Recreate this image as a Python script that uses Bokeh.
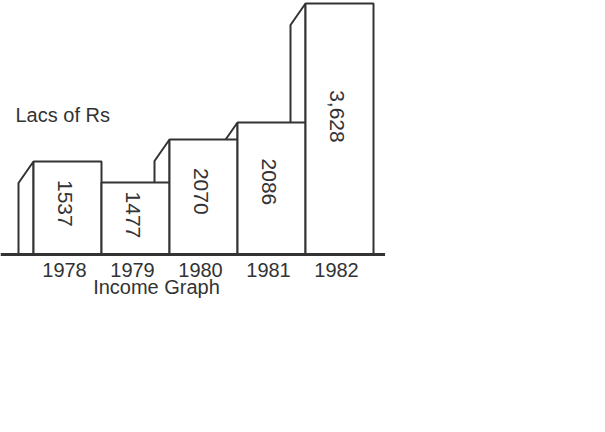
import math
from bokeh.plotting import figure
from bokeh.models import ColumnDataSource, Range1d
from bokeh.core.properties import value
from bokeh.embed import file_html
from bokeh.resources import INLINE

# ---- data ----
years = ["1978", "1979", "1980", "1981", "1982"]
labels = ["1537", "1477", "2070", "2086", "3,628"]
# drawn bar heights (arbitrary picture units; the bars are not proportional to the labels)
heights = [93, 72, 115, 132, 251]
unit_label = "Lacs of Rs"
chart_title = "Income Graph"

# ---- layout / style ----
W, H = 589, 416
PX = 68.0                      # pixels per bar slot
LEFT = 33                      # pixel position of first bar's front face
x0 = -LEFT / PX
y_base = 254                   # baseline in canvas pixels from top
DX = 15 / PX                   # depth of side face (x units)
DY = 21.5                      # depth of side face (y units)
INK = "#333333"
FONT = value("Liberation Sans")

p = figure(width=W, height=H, output_backend="svg", toolbar_location=None,
           x_range=Range1d(x0, x0 + W / PX), y_range=Range1d(-(H - y_base), y_base),
           min_border=0)
p.axis.visible = False
p.grid.visible = False
p.outline_line_color = None
p.background_fill_color = "white"
p.border_fill_color = "white"

n = len(years)
idx = list(range(n))

# side faces (drawn first so front faces hide them)
xs, ys = [], []
for i, h in zip(idx, heights):
    xs.append([i - DX, i - DX, i, i])
    ys.append([0, h - DY, h, 0])
p.patches(xs, ys, fill_color="white", line_color=INK, line_width=2)

# front faces
src = ColumnDataSource(dict(left=[i for i in idx], right=[i + 1 for i in idx],
                            top=heights, bottom=[0] * n,
                            cx=[i + 0.5 for i in idx],
                            ly=[0.55 * h for h in heights],
                            lab=labels, yr=years))
p.quad(left="left", right="right", top="top", bottom="bottom", source=src,
       fill_color="white", line_color=INK, line_width=2)

# baseline
p.segment(x0=[x0], y0=[0], x1=[n + 0.17], y1=[0], line_color=INK, line_width=3)

# value labels, rotated
p.text(x="cx", y="ly", text="lab", source=src, angle=-math.pi / 2,
       text_align="center", text_baseline="middle", text_font=FONT,
       text_font_size="21px", text_color=INK, x_offset=-3)

# year labels
p.text(x="cx", y=-15, text="yr", source=src, text_align="center",
       text_baseline="alphabetic", text_font=FONT, text_font_size="20px",
       text_color=INK, x_offset=-3)

# unit label and caption
p.text(x=[(15 - LEFT) / PX], y=[140], text=[unit_label], text_align="left",
       text_baseline="alphabetic", text_font=FONT, text_font_size="20px",
       text_color=INK)
p.text(x=[(156 - LEFT) / PX], y=[-32], text=[chart_title], text_align="center",
       text_baseline="alphabetic", text_font=FONT, text_font_size="20px",
       text_color=INK)

open("out.html", "w").write(file_html(p, INLINE))
